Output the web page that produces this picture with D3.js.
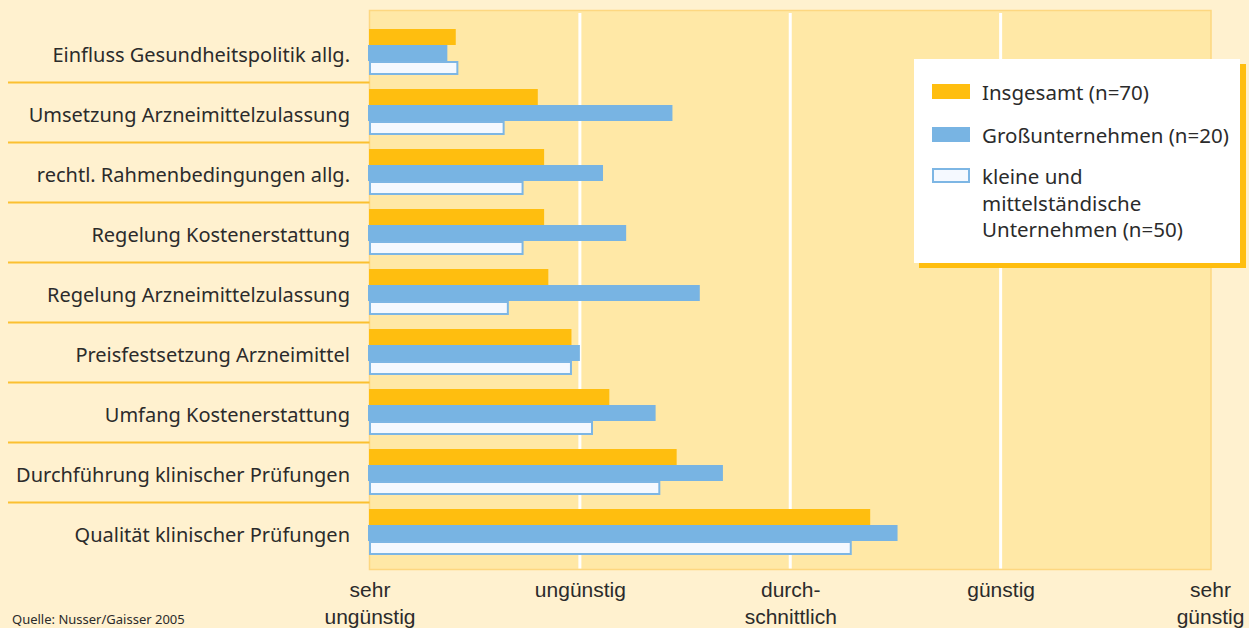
<!DOCTYPE html>
<html>
<head>
<meta charset="utf-8">
<script src="https://cdn.jsdelivr.net/npm/d3@7"></script>
<style>
  html, body { margin: 0; padding: 0; background: #fff1cf; }
  svg { display: block; font-family: "Noto Sans", "Open Sans", sans-serif; }
</style>
</head>
<body>
<div id="chart"></div>
<script>
// categories, top to bottom
const categories = [
  "Einfluss Gesundheitspolitik allg.",
  "Umsetzung Arzneimittelzulassung",
  "rechtl. Rahmenbedingungen allg.",
  "Regelung Kostenerstattung",
  "Regelung Arzneimittelzulassung",
  "Preisfestsetzung Arzneimittel",
  "Umfang Kostenerstattung",
  "Durchführung klinischer Prüfungen",
  "Qualität klinischer Prüfungen"
]

// mean ratings, 1 = sehr ungünstig ... 5 = sehr günstig
const insgesamt = [1.41, 1.80, 1.83, 1.83, 1.85, 1.96, 2.14, 2.46, 3.38]
const gross     = [1.37, 2.44, 2.11, 2.22, 2.57, 2.00, 2.36, 2.68, 3.51]
const kmu       = [1.42, 1.64, 1.73, 1.73, 1.66, 1.96, 2.06, 2.38, 3.29]

const seriesNames = ["Insgesamt (n=70)", "Großunternehmen (n=20)", "kleine und mittelständische Unternehmen (n=50)"]
const tickValues = [1, 2, 3, 4, 5]
const tickLabels = [["sehr", "ungünstig"], ["ungünstig"], ["durch-", "schnittlich"], ["günstig"], ["sehr", "günstig"]]

const W = 1249, H = 628
const plot = {left: 369.5, right: 1211, top: 10.5, bottom: 569.5}

const svg = d3.select("#chart").append("svg")
  .attr("width", W).attr("height", H)

svg.append("rect").attr("width", W).attr("height", H).attr("fill", "#fff1cf")

const x = d3.scaleLinear().domain([1, 5]).range([plot.left, plot.right])
const y = d3.scaleBand().domain(categories).range([22, 562])
const sub = d3.scaleBand().domain(d3.range(3)).range([7, 55])

// plot background
svg.append("rect")
  .attr("x", plot.left).attr("y", plot.top)
  .attr("width", plot.right - plot.left).attr("height", plot.bottom - plot.top)
  .attr("fill", "#ffe8a6").attr("stroke", "#fdd780").attr("stroke-width", 1.5)

// white grid lines
svg.append("g").selectAll("line")
  .data(tickValues.slice(1, 4))
  .join("line")
    .attr("x1", d => x(d)).attr("x2", d => x(d))
    .attr("y1", 13).attr("y2", plot.bottom - 1)
    .attr("stroke", "#ffffff").attr("stroke-width", 3)

// gold separators in label column
svg.append("g").selectAll("line")
  .data(categories.slice(1))
  .join("line")
    .attr("x1", 8).attr("x2", plot.left)
    .attr("y1", d => y(d) + 0.5).attr("y2", d => y(d) + 0.5)
    .attr("stroke", "#fbc030").attr("stroke-width", 2)

// category labels
svg.append("g").selectAll("text")
  .data(categories)
  .join("text")
    .attr("x", 350)
    .attr("y", d => y(d) + y.bandwidth() / 2 + 9.5)
    .attr("text-anchor", "end")
    .attr("font-size", 20)
    .attr("fill", "#2b2b2b")
    .text(d => d)

// bars
const rows = categories.map((c, i) => ({c, vals: [insgesamt[i], gross[i], kmu[i]]}))
const g = svg.append("g").selectAll("g")
  .data(rows)
  .join("g")
    .attr("transform", d => `translate(0, ${y(d.c)})`)

g.append("rect")
  .attr("x", x(1) - 0.5).attr("y", sub(0))
  .attr("width", d => x(d.vals[0]) - x(1) + 0.5).attr("height", sub.bandwidth())
  .attr("fill", "#ffbe0f")

g.append("rect")
  .attr("x", x(1) - 1.5).attr("y", sub(1))
  .attr("width", d => x(d.vals[1]) - x(1) + 1.5).attr("height", sub.bandwidth())
  .attr("fill", "#78b4e3")

g.append("rect")
  .attr("x", x(1) + 0.5).attr("y", sub(2) + 1)
  .attr("width", d => x(d.vals[2]) - x(1) - 1).attr("height", 12)
  .attr("fill", "#f5f9ff").attr("stroke", "#7db6e4").attr("stroke-width", 2)

// x axis with two-line labels
const axis = svg.append("g")
  .attr("transform", `translate(0, ${plot.bottom})`)
  .call(d3.axisBottom(x).tickValues(tickValues).tickSize(0).tickFormat(""))
axis.select(".domain").remove()
axis.selectAll(".tick text").remove()
axis.selectAll(".tick").append("text")
  .attr("text-anchor", "middle")
  .attr("font-size", 21)
  .attr("fill", "#2b2b2b")
  .each(function(d, i) {
    const t = d3.select(this)
    tickLabels[i].forEach((line, j) => {
      t.append("tspan").attr("x", i == 4 ? -1 : 0).attr("y", 27 + j * 27).text(line)
    })
  })

// legend with gold drop shadow
const lg = svg.append("g").attr("transform", "translate(914, 59)")
lg.append("rect").attr("x", 5).attr("y", 5).attr("width", 327).attr("height", 204).attr("fill", "#ffbe0f")
lg.append("rect").attr("width", 326).attr("height", 204).attr("fill", "#ffffff")

const legendRows = [
  {lines: [seriesNames[0]], y: 25},
  {lines: ["Großunternehmen (n=20)"], y: 68},
  {lines: ["kleine und", "mittelständische", "Unternehmen (n=50)"], y: 109}
]
lg.append("rect").attr("x", 18).attr("y", legendRows[0].y).attr("width", 38).attr("height", 15).attr("fill", "#ffbe0f")
lg.append("rect").attr("x", 18).attr("y", legendRows[1].y).attr("width", 38).attr("height", 15).attr("fill", "#78b4e3")
lg.append("rect").attr("x", 19).attr("y", legendRows[2].y + 1).attr("width", 36).attr("height", 13)
  .attr("fill", "#f5f9ff").attr("stroke", "#7db6e4").attr("stroke-width", 2)

legendRows.forEach(r => {
  const t = lg.append("text").attr("font-size", 20.5).attr("fill", "#2b2b2b")
  r.lines.forEach((line, j) => {
    t.append("tspan").attr("x", 68).attr("y", r.y + 16 + j * 26.5).text(line)
  })
})

// source note
svg.append("text")
  .attr("x", 12).attr("y", 624)
  .attr("font-size", 13).attr("fill", "#2b2b2b")
  .text("Quelle: Nusser/Gaisser 2005")
</script>
</body>
</html>
